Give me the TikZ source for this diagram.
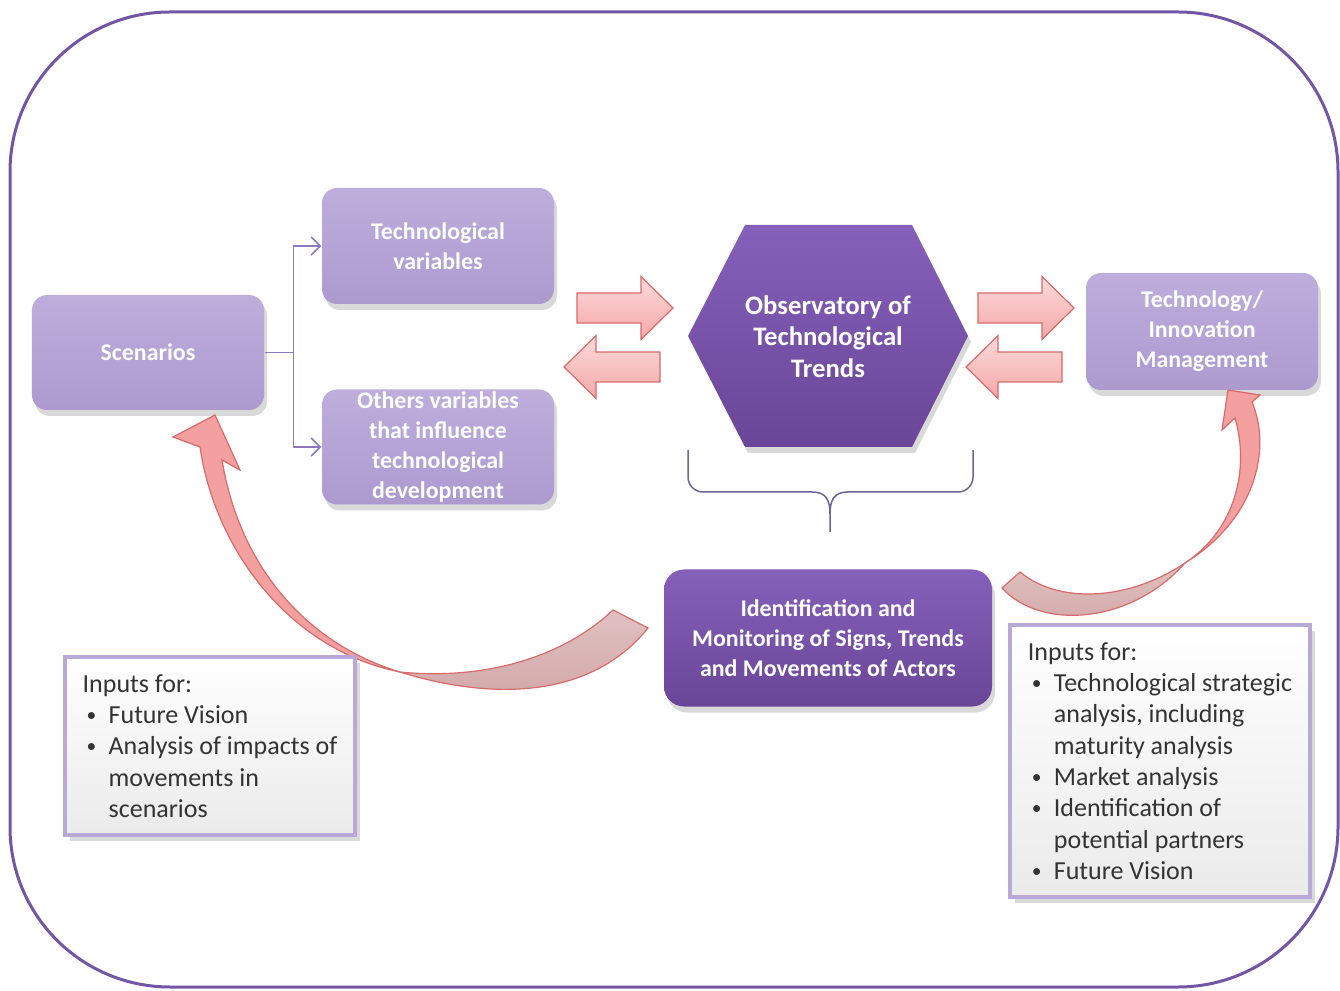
\documentclass[tikz,border=0pt]{standalone}
\usepackage{fontspec}
\setmainfont{Carlito}
\usepackage{xcolor}
\usepackage{graphicx}
\usetikzlibrary{arrows.meta,positioning,shadows}

\definecolor{framepurple}{HTML}{7355A5}
\definecolor{lilactop}{HTML}{BDAEDC}
\definecolor{lilacbot}{HTML}{AC9ACF}
\definecolor{deeptop}{HTML}{8560BA}
\definecolor{deepbot}{HTML}{6A4698}
\definecolor{linkpurple}{HTML}{8C78BE}
\definecolor{bracegray}{HTML}{6E6496}
\definecolor{pinktop}{HTML}{FDDADA}
\definecolor{pinkbot}{HTML}{F4A8A8}
\definecolor{pinkline}{HTML}{D86A6A}
\definecolor{frontpink}{HTML}{F5A0A0}
\definecolor{backpink}{HTML}{D2A7A7}
\definecolor{notedraw}{HTML}{B8A9D6}
\definecolor{notetext}{HTML}{333333}

\newcommand{\bulitem}{\makebox[2.6mm][l]{\hspace{0.4mm}\raisebox{0.15ex}{\scalebox{0.75}{\textbullet}}}}
\newcommand{\bulcont}{\hspace*{2.6mm}}

\begin{document}
\begin{tikzpicture}[
    varbox/.style={rounded corners=1.5mm, minimum width=2.32cm, minimum height=1.15cm, inner sep=0pt,
                   align=center, text=white, font=\fontsize{6.8}{8.5}\selectfont\bfseries,
                   top color=lilactop, bottom color=lilacbot,
                   drop shadow={opacity=0.3, shadow xshift=0.3mm, shadow yshift=-0.6mm}},
    keybox/.style={varbox, rounded corners=2mm, top color=deeptop, bottom color=deepbot},
    note/.style={draw=notedraw, line width=0.35mm, top color=white, bottom color=black!8,
                 text=notetext, align=left, inner sep=0pt, font=\fontsize{7.4}{8.9}\selectfont,
                 drop shadow={opacity=0.3, shadow xshift=0.5mm, shadow yshift=-0.6mm}},
    link/.style={draw=linkpurple, line width=0.15mm, -{Straight Barb[length=0.9mm, width=1.8mm]}},
    blockarrow/.style={draw=pinkline, line width=0.12mm, top color=pinktop, bottom color=pinkbot},
    twistback/.style={draw=pinkline, line width=0.12mm, top color=backpink!70!white, bottom color=backpink},
    twistfront/.style={draw=pinkline, line width=0.12mm, fill=frontpink}
]
    \useasboundingbox (0,0) rectangle (13.4,9.9);
    \draw[framepurple, line width=0.3mm, rounded corners=1.6cm] (0.10,0.03) rectangle (13.38,9.78);

    % Left side: scenarios and variables
    \node[varbox] (scen) at (1.48,6.375) {Scenarios};
    \node[varbox, minimum height=1.16cm] (techvar) at (4.38,7.44) {Technological\\variables};
    \node[varbox] (othervar) at (4.38,5.43) {Others variables\\that influence\\technological\\development};

    \draw[linkpurple, line width=0.15mm] (scen.east) -- ++(0.29,0) coordinate (split);
    \draw[link] (split) |- (techvar.west);
    \draw[link] (split) |- (othervar.west);

    % Center: observatory
    \shade[top color=deeptop, bottom color=deepbot,
           drop shadow={opacity=0.3, shadow xshift=0.3mm, shadow yshift=-0.6mm}]
        (6.88,6.54) -- (7.45,7.65) -- (9.12,7.65) -- (9.68,6.54) -- (9.12,5.43) -- (7.45,5.43) -- cycle;
    \node[text=white, align=center, font=\fontsize{7.6}{9}\selectfont\bfseries] (obs) at (8.28,6.535)
        {Observatory of\\Technological\\Trends};

    \node[keybox, minimum width=3.28cm, minimum height=1.37cm] (ident) at (8.28,3.52)
        {Identification and\\Monitoring of Signs, Trends\\and Movements of Actors};

    % Right side: management
    \node[varbox, minimum height=1.17cm] (mgmt) at (12.02,6.585) {Technology/\\Innovation\\Management};

    % Brace under the hexagon
    \draw[bracegray, line width=0.15mm]
        (6.88,5.40) -- (6.88,5.13) to[out=-90, in=180] (7.03,4.98) -- (8.12,4.98)
        .. controls (8.26,4.98) and (8.30,4.90) .. (8.30,4.76) -- (8.30,4.58);
    \draw[bracegray, line width=0.15mm]
        (9.73,5.40) -- (9.73,5.13) to[out=-90, in=0] (9.58,4.98) -- (8.48,4.98)
        .. controls (8.34,4.98) and (8.30,4.90) .. (8.30,4.76);

    % Block arrows
    \foreach \ax/\ay/\dir in {5.77/6.82/1, 6.60/6.23/-1, 9.78/6.82/1, 10.62/6.23/-1}
        \draw[blockarrow, shift={(\ax,\ay)}, xscale=\dir]
            (0,0.15) -- (0.64,0.15) -- (0.64,0.315) -- (0.96,0) -- (0.64,-0.315) -- (0.64,-0.15) -- (0,-0.15) -- cycle;

    % Curved arrows
    \draw[twistback] (6.13,3.80) .. controls (5.60,3.30) and (4.80,3.10) .. (4.00,3.18)
        .. controls (4.90,2.90) and (5.90,2.90) .. (6.48,3.62) -- cycle;
    \draw[twistfront] (4.00,3.18) .. controls (2.90,3.40) and (2.15,4.40) .. (2.00,5.43)
        -- (1.73,5.53) -- (2.15,5.75) -- (2.40,5.20) -- (2.22,5.30)
        .. controls (2.40,4.20) and (3.10,3.45) .. (4.00,3.18) -- cycle;

    \draw[twistback] (10.20,4.18) .. controls (10.60,3.85) and (11.30,3.90) .. (11.85,4.27)
        .. controls (11.30,3.65) and (10.40,3.60) .. (10.02,4.02) -- cycle;
    \draw[twistfront] (11.85,4.27) .. controls (12.55,4.70) and (12.72,5.40) .. (12.52,5.88)
        -- (12.60,5.95) -- (12.28,6.00) -- (12.22,5.60) -- (12.35,5.72)
        .. controls (12.50,5.20) and (12.35,4.60) .. (11.85,4.27) -- cycle;

    % Input notes
    \node[note, minimum width=2.9cm, minimum height=1.78cm] (leftnote) at (2.10,2.44)
        {Inputs for:\\
         \bulitem Future Vision\\
         \bulitem Analysis of impacts of\\
         \bulcont movements in\\
         \bulcont scenarios};
    \node[note, minimum width=3.0cm, minimum height=2.72cm] (rightnote) at (11.60,2.29)
        {Inputs for:\\
         \bulitem Technological strategic\\
         \bulcont analysis, including\\
         \bulcont maturity analysis\\
         \bulitem Market analysis\\
         \bulitem Identification of\\
         \bulcont potential partners\\
         \bulitem Future Vision};
\end{tikzpicture}
\end{document}
